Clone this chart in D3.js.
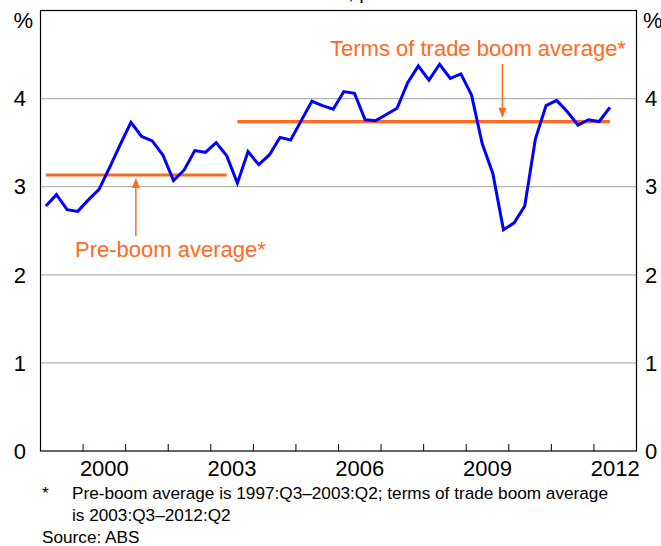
<!DOCTYPE html>
<html><head><meta charset="utf-8">
<script src="https://cdn.jsdelivr.net/npm/d3@7/dist/d3.min.js"></script>
<style>body{margin:0;background:#fff}svg{display:block}text{font-family:"Liberation Sans",Arial,sans-serif}</style>
</head><body>
<script>
// Quarterly series, 1999:Q1 – 2012:Q2 (per cent)
const startYear = 1999;
const values = [2.78,2.91,2.74,2.72,2.85,2.97,3.22,3.48,3.73,3.57,3.52,3.36,3.07,3.19,3.41,3.39,3.50,3.35,3.04,3.40,3.25,3.36,3.56,3.53,3.75,3.97,3.92,3.88,4.08,4.06,3.76,3.75,3.82,3.89,4.18,4.37,4.21,4.39,4.23,4.28,4.04,3.49,3.15,2.51,2.59,2.78,3.54,3.92,3.98,3.85,3.70,3.76,3.74,3.90];
// Averages: [first quarter index, last quarter index, value]
const averages = [
  {from: 0, to: 17, value: 3.133, label: "Pre-boom average*"},
  {from: 18, to: 53, value: 3.738, label: "Terms of trade boom average*"}
];
const yTicks = [0,1,2,3,4];
const tickYears = [2000,2001,2002,2003,2004,2005,2006,2007,2008,2009,2010,2011,2012];
const yearLabels = [2000,2003,2006,2009,2012];
const footnotes = ["Pre-boom average is 1997:Q3\u20132003:Q2; terms of trade boom average","is 2003:Q3\u20132012:Q2"];
const source = "Source: ABS";

const W = 661, H = 546;
const L = 40.5, R = 636.5, T = 10.5, B = 451;
const svg = d3.select("body").append("svg").attr("width", W).attr("height", H);
const x = d3.scaleLinear().domain([1999, 2013]).range([L, R]);
const y = d3.scaleLinear().domain([0, 5]).range([B, T]);
const qx = i => x(startYear + i * 0.25 + 0.125);
const orange = "#FF6A1F";

// partially visible title (only descenders show in the reference)
svg.append("text").attr("x", (L + R) / 2).attr("y", -1).attr("text-anchor", "middle")
  .attr("font-size", 20).text("Year-ended, per cent");

// gridlines
svg.append("g").selectAll("line").data(yTicks.filter(d => d > 0)).join("line")
  .attr("x1", L).attr("x2", R).attr("y1", d => y(d)).attr("y2", d => y(d))
  .attr("stroke", "#b4b4b4").attr("stroke-width", 1.2);

// y labels both sides
const yl = svg.append("g").attr("font-size", 22);
yl.selectAll("text.l").data(yTicks).join("text").attr("class", "l")
  .attr("x", 26).attr("y", d => y(d)).attr("dy", "0.35em").attr("text-anchor", "end").text(d => d);
yl.selectAll("text.r").data(yTicks).join("text").attr("class", "r")
  .attr("x", 645).attr("y", d => y(d)).attr("dy", "0.35em").attr("text-anchor", "start").text(d => d);
yl.append("text").attr("x", 33).attr("y", 28).attr("text-anchor", "end").text("%");
yl.append("text").attr("x", 643).attr("y", 28).attr("text-anchor", "start").text("%");

// x ticks (inward) and labels
svg.append("g").selectAll("line").data(tickYears).join("line")
  .attr("x1", d => x(d)).attr("x2", d => x(d)).attr("y1", B).attr("y2", B - 7)
  .attr("stroke", "#000").attr("stroke-width", 1);
svg.append("g").attr("font-size", 22).selectAll("text").data(yearLabels).join("text")
  .attr("x", d => x(d + 0.5)).attr("y", 476).attr("text-anchor", "middle").text(d => d);

// averages
svg.append("g").selectAll("line").data(averages).join("line")
  .attr("x1", d => qx(d.from)).attr("x2", d => qx(d.to))
  .attr("y1", d => y(d.value)).attr("y2", d => y(d.value))
  .attr("stroke", orange).attr("stroke-width", 3.2);

// series
svg.append("path").datum(values).attr("fill", "none").attr("stroke", "#0000FF")
  .attr("stroke-width", 3).attr("stroke-linejoin", "miter")
  .attr("d", d3.line().x((d, i) => qx(i)).y(d => y(d)));

// annotations
function arrow(xp, yFrom, yTip) {
  const dir = yTip > yFrom ? 1 : -1;
  svg.append("line").attr("x1", xp).attr("x2", xp).attr("y1", yFrom).attr("y2", yTip - dir * 6)
    .attr("stroke", orange).attr("stroke-width", 1.5);
  svg.append("path").attr("d", `M${xp - 4},${yTip - dir * 10}L${xp + 4},${yTip - dir * 10}L${xp},${yTip}Z`)
    .attr("fill", orange);
}
arrow(x(2001.24), 236, y(averages[0].value) + 3);
arrow(x(2009.85), 64, y(averages[1].value) - 4);
svg.append("text").attr("x", 75).attr("y", 257).attr("font-size", 22).attr("fill", orange).text(averages[0].label);
svg.append("text").attr("x", 330).attr("y", 56).attr("font-size", 22).attr("fill", orange).text(averages[1].label);

// frame
svg.append("rect").attr("x", L).attr("y", T).attr("width", R - L).attr("height", B - T)
  .attr("fill", "none").attr("stroke", "#000").attr("stroke-width", 1.2);

// footnotes
const fn = svg.append("g").attr("font-size", 17.2);
fn.append("text").attr("x", 42).attr("y", 499).text("*");
fn.append("text").attr("x", 72).attr("y", 499).text(footnotes[0]);
fn.append("text").attr("x", 72).attr("y", 521).text(footnotes[1]);
fn.append("text").attr("x", 42).attr("y", 543).text(source);
</script>
</body></html>
